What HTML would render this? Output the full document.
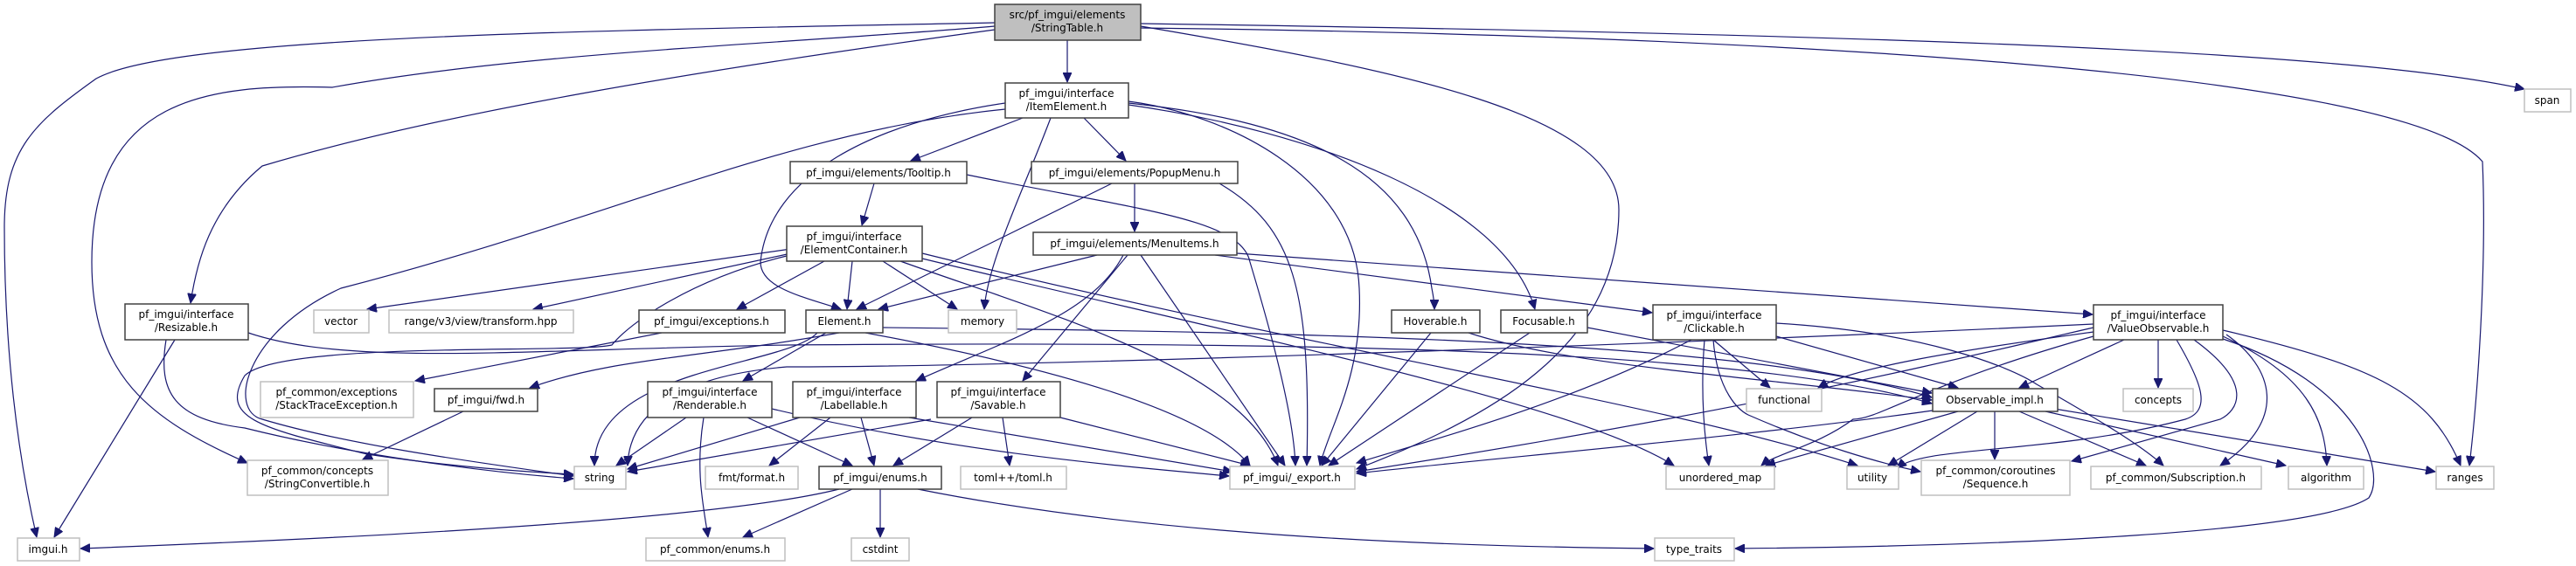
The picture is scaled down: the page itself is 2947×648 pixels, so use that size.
<!DOCTYPE html>
<html><head><meta charset="utf-8"><style>
html,body{margin:0;padding:0;background:#fff}
svg{display:block}
text{font-family:"DejaVu Sans","Liberation Sans",sans-serif;font-size:12px;fill:#000;text-anchor:middle}
.b{fill:#fff;stroke:#404040;stroke-width:1.5}
.g{fill:#fff;stroke:#bfbfbf;stroke-width:1.5}
.e path{fill:none;stroke:#191970;stroke-width:1.2;marker-end:url(#a)}
</style></head><body>
<svg width="2947" height="648" viewBox="0 0 2947 648" xmlns="http://www.w3.org/2000/svg">
<defs><marker id="a" markerUnits="userSpaceOnUse" markerWidth="12" markerHeight="10" refX="11" refY="5" orient="auto"><path d="M0,0 L11,5 L0,10 z" fill="#191970" stroke="#191970"/></marker></defs>
<g class="e">
<path d="M1221,46 L1221,94"/>
<path d="M1138,26 C700,35 200,40 110,90 C40,140 5,170 5,260 C5,400 20,520 42,615"/>
<path d="M1138,30 C900,50 600,60 380,100 C240,96 105,110 105,300 C105,430 170,480 283,530"/>
<path d="M1138,34 C800,80 500,130 300,190 C240,240 225,300 218,347"/>
<path d="M1305,30 C1600,80 1852,130 1852,240 C1852,400 1700,480 1552,537"/>
<path d="M1305,27 C2200,40 2700,60 2888,102"/>
<path d="M1305,32 C2000,40 2750,80 2840,185 C2845,300 2835,450 2825,533"/>
<path d="M1170,135 L1042,184"/>
<path d="M1240,135 L1288,184"/>
<path d="M1202,135 C1170,220 1130,300 1126,354"/>
<path d="M1150,118 C1000,140 880,200 870,300 C870,330 920,340 962,354"/>
<path d="M1150,125 C900,150 700,250 390,330 C280,380 260,470 300,480 C400,510 550,530 656,545"/>
<path d="M1291,116 C1400,130 1550,200 1555,330 C1560,430 1520,490 1510,533"/>
<path d="M1291,118 C1500,140 1620,200 1638,330 C1640,340 1641,350 1641,354"/>
<path d="M1291,120 C1500,150 1720,230 1756,354"/>
<path d="M1000,210 L986,258"/>
<path d="M1106,200 C1300,240 1420,250 1430,300 C1460,400 1480,480 1482,533"/>
<path d="M1298,210 L1298,265"/>
<path d="M1272,210 L980,354"/>
<path d="M1395,210 C1480,260 1500,330 1495,533"/>
<path d="M905,285 L420,354"/>
<path d="M905,290 L610,354"/>
<path d="M943,299 L843,354"/>
<path d="M975,299 L969,354"/>
<path d="M1010,299 L1095,354"/>
<path d="M900,293 C790,320 720,370 700,395 C660,405 320,390 280,430 C250,480 300,490 420,520 C520,535 600,540 656,543"/>
<path d="M1030,299 C1200,360 1420,420 1462,533"/>
<path d="M1055,290 C1500,400 1900,460 2125,533"/>
<path d="M1055,296 C1400,380 1800,460 1915,533"/>
<path d="M935,381 C900,420 680,420 680,533"/>
<path d="M945,381 L850,436"/>
<path d="M990,381 C1200,420 1380,470 1430,533"/>
<path d="M1010,375 C1500,380 2000,390 2210,455"/>
<path d="M960,381 C800,410 700,410 606,444"/>
<path d="M757,381 L475,436"/>
<path d="M200,389 L62,615"/>
<path d="M190,389 C180,450 200,480 280,490 C400,520 550,540 656,548"/>
<path d="M284,381 C400,420 600,400 900,395 C1500,390 2000,400 2210,462"/>
<path d="M530,471 L415,526"/>
<path d="M785,478 L705,533"/>
<path d="M805,478 C795,540 805,580 810,615"/>
<path d="M855,478 L975,533"/>
<path d="M883,468 C1100,520 1300,535 1406,545"/>
<path d="M915,478 L718,537"/>
<path d="M950,478 L880,533"/>
<path d="M985,478 L1000,533"/>
<path d="M1040,478 L1410,540"/>
<path d="M1112,478 L1022,533"/>
<path d="M1147,478 L1155,533"/>
<path d="M1065,480 L718,540"/>
<path d="M1213,478 L1430,533"/>
<path d="M960,560 C800,600 300,620 92,628"/>
<path d="M975,560 L850,615"/>
<path d="M1007,560 L1007,615"/>
<path d="M1050,560 C1300,610 1600,625 1892,628"/>
<path d="M1255,292 L1005,354"/>
<path d="M1285,292 C1250,360 1150,390 1048,436"/>
<path d="M1290,292 L1170,436"/>
<path d="M1305,292 L1470,533"/>
<path d="M1390,292 L1890,358"/>
<path d="M1415,290 L2394,360"/>
<path d="M1637,381 L1512,533"/>
<path d="M1680,381 C1800,420 2000,430 2210,458"/>
<path d="M1750,381 L1520,533"/>
<path d="M1816,375 L2210,450"/>
<path d="M1935,389 C1800,460 1650,500 1552,530"/>
<path d="M1960,389 L2025,444"/>
<path d="M1950,389 C1945,450 1950,500 1955,533"/>
<path d="M2032,385 L2240,444"/>
<path d="M2032,370 C2200,380 2300,420 2330,440 C2400,480 2450,510 2475,533"/>
<path d="M1960,389 C1965,450 1990,470 2000,475 C2080,510 2150,530 2197,540"/>
<path d="M2430,389 L2310,444"/>
<path d="M2469,389 L2469,444"/>
<path d="M2395,380 C2250,400 2120,420 2080,444"/>
<path d="M2395,375 C2200,420 2000,470 1552,540"/>
<path d="M2395,371 C2000,390 1200,420 900,420 C780,430 720,470 718,533"/>
<path d="M2395,385 C2200,440 2150,480 2120,480 C2080,510 2030,520 2015,533"/>
<path d="M2490,389 C2520,440 2530,470 2500,480 C2350,520 2200,510 2170,536"/>
<path d="M2510,389 C2580,440 2560,470 2540,480 C2450,505 2400,520 2370,528"/>
<path d="M2547,383 C2600,420 2620,480 2540,533"/>
<path d="M2543,385 C2640,430 2660,480 2662,533"/>
<path d="M2543,378 C2720,420 2780,450 2815,533"/>
<path d="M2543,388 C2700,440 2730,540 2710,570 C2650,610 2300,625 1985,628"/>
<path d="M2211,470 C2000,500 1700,525 1552,542"/>
<path d="M2240,471 L2020,533"/>
<path d="M2262,471 L2160,533"/>
<path d="M2282,471 L2282,526"/>
<path d="M2310,471 L2455,533"/>
<path d="M2340,471 L2615,533"/>
<path d="M2350,468 L2786,540"/>
</g>
<g>
<rect x="1138" y="5" width="167" height="41" fill="#bfbfbf" stroke="#404040" stroke-width="1.5"/><text x="1221" y="21">src/pf_imgui/elements</text><text x="1221" y="36">/StringTable.h</text>
<rect class="b" x="1150" y="95" width="141" height="40"/><text x="1220" y="111">pf_imgui/interface</text><text x="1220" y="126">/ItemElement.h</text>
<rect class="b" x="904" y="185" width="202" height="25"/><text x="1005" y="202">pf_imgui/elements/Tooltip.h</text>
<rect class="b" x="1180" y="185" width="236" height="25"/><text x="1298" y="202">pf_imgui/elements/PopupMenu.h</text>
<rect class="b" x="900" y="259" width="155" height="40"/><text x="977" y="275">pf_imgui/interface</text><text x="977" y="290">/ElementContainer.h</text>
<rect class="b" x="1182" y="266" width="233" height="26"/><text x="1298" y="283">pf_imgui/elements/MenuItems.h</text>
<rect class="b" x="143" y="348" width="141" height="41"/><text x="213" y="364">pf_imgui/interface</text><text x="213" y="379">/Resizable.h</text>
<rect class="g" x="359" y="355" width="63" height="26"/><text x="390" y="372">vector</text>
<rect class="g" x="445" y="355" width="211" height="26"/><text x="550" y="372">range/v3/view/transform.hpp</text>
<rect class="b" x="731" y="355" width="167" height="26"/><text x="814" y="372">pf_imgui/exceptions.h</text>
<rect class="b" x="922" y="355" width="88" height="26"/><text x="966" y="372">Element.h</text>
<rect class="g" x="1085" y="355" width="78" height="26"/><text x="1124" y="372">memory</text>
<rect class="b" x="1592" y="355" width="101" height="26"/><text x="1642" y="372">Hoverable.h</text>
<rect class="b" x="1717" y="355" width="99" height="26"/><text x="1766" y="372">Focusable.h</text>
<rect class="b" x="1891" y="349" width="141" height="40"/><text x="1961" y="365">pf_imgui/interface</text><text x="1961" y="380">/Clickable.h</text>
<rect class="b" x="2395" y="349" width="148" height="40"/><text x="2469" y="365">pf_imgui/interface</text><text x="2469" y="380">/ValueObservable.h</text>
<rect class="g" x="298" y="437" width="175" height="41"/><text x="385" y="453">pf_common/exceptions</text><text x="385" y="468">/StackTraceException.h</text>
<rect class="b" x="497" y="445" width="118" height="26"/><text x="556" y="462">pf_imgui/fwd.h</text>
<rect class="b" x="741" y="437" width="142" height="41"/><text x="812" y="453">pf_imgui/interface</text><text x="812" y="468">/Renderable.h</text>
<rect class="b" x="907" y="437" width="141" height="41"/><text x="977" y="453">pf_imgui/interface</text><text x="977" y="468">/Labellable.h</text>
<rect class="b" x="1072" y="437" width="141" height="41"/><text x="1142" y="453">pf_imgui/interface</text><text x="1142" y="468">/Savable.h</text>
<rect class="g" x="1998" y="445" width="86" height="26"/><text x="2041" y="462">functional</text>
<rect class="b" x="2211" y="445" width="143" height="26"/><text x="2282" y="462">Observable_impl.h</text>
<rect class="g" x="2429" y="445" width="80" height="26"/><text x="2469" y="462">concepts</text>
<rect class="g" x="283" y="527" width="161" height="40"/><text x="363" y="543">pf_common/concepts</text><text x="363" y="558">/StringConvertible.h</text>
<rect class="g" x="657" y="534" width="59" height="26"/><text x="686" y="551">string</text>
<rect class="g" x="807" y="534" width="106" height="26"/><text x="860" y="551">fmt/format.h</text>
<rect class="b" x="937" y="534" width="140" height="26"/><text x="1007" y="551">pf_imgui/enums.h</text>
<rect class="g" x="1099" y="534" width="121" height="26"/><text x="1159" y="551">toml++/toml.h</text>
<rect class="g" x="1407" y="534" width="143" height="26"/><text x="1478" y="551">pf_imgui/_export.h</text>
<rect class="g" x="1906" y="534" width="124" height="26"/><text x="1968" y="551">unordered_map</text>
<rect class="g" x="2113" y="534" width="59" height="26"/><text x="2142" y="551">utility</text>
<rect class="g" x="2198" y="527" width="170" height="40"/><text x="2283" y="543">pf_common/coroutines</text><text x="2283" y="558">/Sequence.h</text>
<rect class="g" x="2392" y="534" width="195" height="26"/><text x="2489" y="551">pf_common/Subscription.h</text>
<rect class="g" x="2618" y="534" width="86" height="26"/><text x="2661" y="551">algorithm</text>
<rect class="g" x="2787" y="534" width="66" height="26"/><text x="2820" y="551">ranges</text>
<rect class="g" x="20" y="616" width="71" height="26"/><text x="55" y="633">imgui.h</text>
<rect class="g" x="739" y="616" width="159" height="26"/><text x="818" y="633">pf_common/enums.h</text>
<rect class="g" x="974" y="616" width="66" height="26"/><text x="1007" y="633">cstdint</text>
<rect class="g" x="1893" y="616" width="91" height="26"/><text x="1938" y="633">type_traits</text>
<rect class="g" x="2888" y="102" width="53" height="26"/><text x="2914" y="119">span</text>
</g>
</svg>
</body></html>
